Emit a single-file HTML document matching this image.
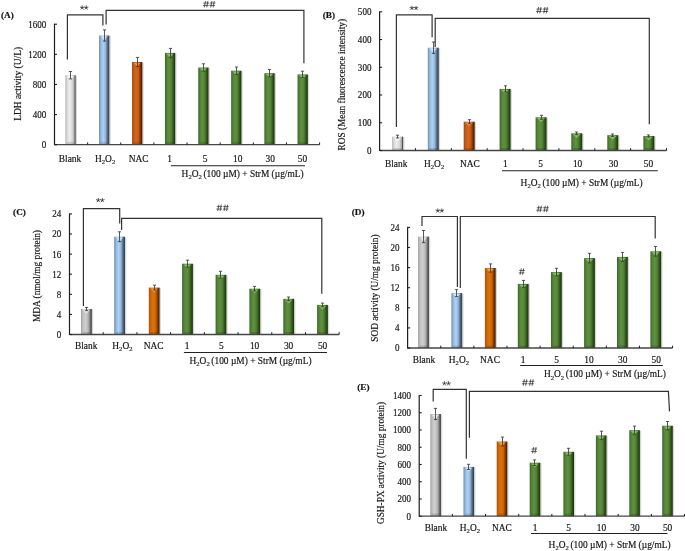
<!DOCTYPE html>
<html><head><meta charset="utf-8"><title>Figure</title>
<style>html,body{margin:0;padding:0;background:#fff;overflow:hidden;}svg{display:block;will-change:transform;}text{stroke:#222;stroke-width:0.18px;}</style></head>
<body><svg width="685" height="551" viewBox="0 0 685 551">
<defs><linearGradient id="g_grayL" x1="0" x2="1" y1="0" y2="0"><stop offset="0%" stop-color="#b2b2b2"/><stop offset="15%" stop-color="#d6d6d6"/><stop offset="40%" stop-color="#ececec"/><stop offset="68%" stop-color="#d8d8d8"/><stop offset="86%" stop-color="#a8a8a8"/><stop offset="93%" stop-color="#5c5c5c"/><stop offset="100%" stop-color="#3a3a3a"/></linearGradient><linearGradient id="g_grayD" x1="0" x2="1" y1="0" y2="0"><stop offset="0%" stop-color="#9c9c9c"/><stop offset="15%" stop-color="#bdbdbd"/><stop offset="40%" stop-color="#d0d0d0"/><stop offset="66%" stop-color="#b8b8b8"/><stop offset="84%" stop-color="#7c7c7c"/><stop offset="92%" stop-color="#4a4a4a"/><stop offset="100%" stop-color="#383838"/></linearGradient><linearGradient id="g_blue" x1="0" x2="1" y1="0" y2="0"><stop offset="0%" stop-color="#6d8cac"/><stop offset="18%" stop-color="#93b8df"/><stop offset="40%" stop-color="#aed2f6"/><stop offset="63%" stop-color="#94b6da"/><stop offset="83%" stop-color="#4f6479"/><stop offset="100%" stop-color="#2f3d4c"/></linearGradient><linearGradient id="g_orange" x1="0" x2="1" y1="0" y2="0"><stop offset="0%" stop-color="#9c4810"/><stop offset="18%" stop-color="#c55a15"/><stop offset="40%" stop-color="#d6661c"/><stop offset="63%" stop-color="#c55a14"/><stop offset="83%" stop-color="#7a3208"/><stop offset="100%" stop-color="#3c1604"/></linearGradient><linearGradient id="g_orangeY" x1="0" x2="1" y1="0" y2="0"><stop offset="0%" stop-color="#a55208"/><stop offset="18%" stop-color="#cc6405"/><stop offset="40%" stop-color="#e07306"/><stop offset="63%" stop-color="#cc6605"/><stop offset="83%" stop-color="#7a3a05"/><stop offset="100%" stop-color="#3e1a02"/></linearGradient><linearGradient id="g_green" x1="0" x2="1" y1="0" y2="0"><stop offset="0%" stop-color="#3b6626"/><stop offset="18%" stop-color="#528337"/><stop offset="40%" stop-color="#5f9140"/><stop offset="63%" stop-color="#537f35"/><stop offset="83%" stop-color="#2f5418"/><stop offset="100%" stop-color="#183009"/></linearGradient></defs>
<rect width="685" height="551" fill="#fff"/>
<rect x="75.65" y="75.7" width="1.3" height="69" fill="#000" opacity="0.16"/>
<rect x="65.35" y="75.2" width="10.3" height="69.5" fill="url(#g_grayL)"/>
<path d="M66.65 76 L74.05 76 L70.5 79.8 Z" fill="#ffffff" opacity="0.72"/>
<path d="M65.35 144.7 L75.65 144.7 L73.45 142.1 L67.55 142.1 Z" fill="#000" opacity="0.13"/>
<path d="M70.5 71.5 V78.9 M68.9 71.5 H72.1 M68.9 78.9 H72.1" stroke="#3a3a3a" stroke-width="0.85" fill="none"/>
<rect x="109.35" y="36" width="1.3" height="108.7" fill="#000" opacity="0.16"/>
<rect x="99.05" y="35.5" width="10.3" height="109.2" fill="url(#g_blue)"/>
<path d="M100.35 36.3 L107.75 36.3 L104.2 40.1 Z" fill="#dcefff" opacity="0.72"/>
<path d="M99.05 144.7 L109.35 144.7 L107.15 142.1 L101.25 142.1 Z" fill="#000" opacity="0.13"/>
<path d="M104.5 29.9 V41.1 M102.9 29.9 H106.1 M102.9 41.1 H106.1" stroke="#3a3a3a" stroke-width="0.85" fill="none"/>
<rect x="142.35" y="62.5" width="1.3" height="82.2" fill="#000" opacity="0.16"/>
<rect x="132.05" y="62" width="10.3" height="82.7" fill="url(#g_orange)"/>
<path d="M133.35 62.8 L140.75 62.8 L137.2 66.6 Z" fill="#f6a657" opacity="0.72"/>
<path d="M132.05 144.7 L142.35 144.7 L140.15 142.1 L134.25 142.1 Z" fill="#000" opacity="0.13"/>
<path d="M137.5 57.4 V66.6 M135.9 57.4 H139.1 M135.9 66.6 H139.1" stroke="#3a3a3a" stroke-width="0.85" fill="none"/>
<rect x="175.25" y="53.4" width="1.3" height="91.3" fill="#000" opacity="0.16"/>
<rect x="164.95" y="52.9" width="10.3" height="91.8" fill="url(#g_green)"/>
<path d="M166.25 53.7 L173.65 53.7 L170.1 57.5 Z" fill="#93d46f" opacity="0.72"/>
<path d="M164.95 144.7 L175.25 144.7 L173.05 142.1 L167.15 142.1 Z" fill="#000" opacity="0.13"/>
<path d="M170.5 48.4 V57.4 M168.9 48.4 H172.1 M168.9 57.4 H172.1" stroke="#3a3a3a" stroke-width="0.85" fill="none"/>
<rect x="208.55" y="68" width="1.3" height="76.7" fill="#000" opacity="0.16"/>
<rect x="198.25" y="67.5" width="10.3" height="77.2" fill="url(#g_green)"/>
<path d="M199.55 68.3 L206.95 68.3 L203.4 72.1 Z" fill="#93d46f" opacity="0.72"/>
<path d="M198.25 144.7 L208.55 144.7 L206.35 142.1 L200.45 142.1 Z" fill="#000" opacity="0.13"/>
<path d="M203.5 63.8 V71.2 M201.9 63.8 H205.1 M201.9 71.2 H205.1" stroke="#3a3a3a" stroke-width="0.85" fill="none"/>
<rect x="241.45" y="71.2" width="1.3" height="73.5" fill="#000" opacity="0.16"/>
<rect x="231.15" y="70.7" width="10.3" height="74" fill="url(#g_green)"/>
<path d="M232.45 71.5 L239.85 71.5 L236.3 75.3 Z" fill="#93d46f" opacity="0.72"/>
<path d="M231.15 144.7 L241.45 144.7 L239.25 142.1 L233.35 142.1 Z" fill="#000" opacity="0.13"/>
<path d="M236.5 67 V74.4 M234.9 67 H238.1 M234.9 74.4 H238.1" stroke="#3a3a3a" stroke-width="0.85" fill="none"/>
<rect x="274.65" y="73.7" width="1.3" height="71" fill="#000" opacity="0.16"/>
<rect x="264.35" y="73.2" width="10.3" height="71.5" fill="url(#g_green)"/>
<path d="M265.65 74 L273.05 74 L269.5 77.8 Z" fill="#93d46f" opacity="0.72"/>
<path d="M264.35 144.7 L274.65 144.7 L272.45 142.1 L266.55 142.1 Z" fill="#000" opacity="0.13"/>
<path d="M269.5 69.5 V76.9 M267.9 69.5 H271.1 M267.9 76.9 H271.1" stroke="#3a3a3a" stroke-width="0.85" fill="none"/>
<rect x="307.85" y="74.9" width="1.3" height="69.8" fill="#000" opacity="0.16"/>
<rect x="297.55" y="74.4" width="10.3" height="70.3" fill="url(#g_green)"/>
<path d="M298.85 75.2 L306.25 75.2 L302.7 79 Z" fill="#93d46f" opacity="0.72"/>
<path d="M297.55 144.7 L307.85 144.7 L305.65 142.1 L299.75 142.1 Z" fill="#000" opacity="0.13"/>
<path d="M302.5 71.2 V77.6 M300.9 71.2 H304.1 M300.9 77.6 H304.1" stroke="#3a3a3a" stroke-width="0.85" fill="none"/>
<path d="M54.5 144.7 H319.6" stroke="#464646" stroke-width="1.3" fill="none"/>
<path d="M54.5 24.2 V144.7" stroke="#1e1e1e" stroke-width="1.2" fill="none" stroke-linecap="round"/>
<path d="M54.5 144.7 H57" stroke="#1e1e1e" stroke-width="1.1"/>
<text transform="translate(46.3,148.1) scale(0.93,1)" font-size="9.7" font-family='"Liberation Serif", serif' text-anchor="end" fill="#111">0</text>
<path d="M54.5 114.57 H57" stroke="#1e1e1e" stroke-width="1.1"/>
<text transform="translate(46.3,117.97) scale(0.93,1)" font-size="9.7" font-family='"Liberation Serif", serif' text-anchor="end" fill="#111">400</text>
<path d="M54.5 84.45 H57" stroke="#1e1e1e" stroke-width="1.1"/>
<text transform="translate(46.3,87.85) scale(0.93,1)" font-size="9.7" font-family='"Liberation Serif", serif' text-anchor="end" fill="#111">800</text>
<path d="M54.5 54.33 H57" stroke="#1e1e1e" stroke-width="1.1"/>
<text transform="translate(46.3,57.73) scale(0.93,1)" font-size="9.7" font-family='"Liberation Serif", serif' text-anchor="end" fill="#111">1200</text>
<path d="M54.5 24.2 H57" stroke="#1e1e1e" stroke-width="1.1"/>
<text transform="translate(46.3,27.6) scale(0.93,1)" font-size="9.7" font-family='"Liberation Serif", serif' text-anchor="end" fill="#111">1600</text>
<path d="M87.64 144.7 V142.4" stroke="#1e1e1e" stroke-width="1"/>
<path d="M120.78 144.7 V142.4" stroke="#1e1e1e" stroke-width="1"/>
<path d="M153.91 144.7 V142.4" stroke="#1e1e1e" stroke-width="1"/>
<path d="M187.05 144.7 V142.4" stroke="#1e1e1e" stroke-width="1"/>
<path d="M220.19 144.7 V142.4" stroke="#1e1e1e" stroke-width="1"/>
<path d="M253.33 144.7 V142.4" stroke="#1e1e1e" stroke-width="1"/>
<path d="M286.46 144.7 V142.4" stroke="#1e1e1e" stroke-width="1"/>
<path d="M319.6 144.7 V142.4" stroke="#1e1e1e" stroke-width="1"/>
<text transform="translate(70,161.8) scale(0.97,1)" font-size="9.7" font-family='"Liberation Serif", serif' text-anchor="middle" font-weight="normal" fill="#111" >Blank</text>
<text transform="translate(105.1,161.8) scale(0.97,1)" font-size="9.7" font-family='"Liberation Serif", serif' text-anchor="middle" font-weight="normal" fill="#111" >H<tspan font-size="6.79" dy="2.2">2</tspan><tspan dy="-2.2">O</tspan><tspan font-size="6.79" dy="2.2">2</tspan><tspan dy="-2.2"></tspan></text>
<text transform="translate(138.7,161.8) scale(0.97,1)" font-size="9.7" font-family='"Liberation Serif", serif' text-anchor="middle" font-weight="normal" fill="#111" >NAC</text>
<text transform="translate(169.7,161.8) scale(0.97,1)" font-size="9.7" font-family='"Liberation Serif", serif' text-anchor="middle" font-weight="normal" fill="#111" >1</text>
<text transform="translate(205.1,161.8) scale(0.97,1)" font-size="9.7" font-family='"Liberation Serif", serif' text-anchor="middle" font-weight="normal" fill="#111" >5</text>
<text transform="translate(237.8,161.8) scale(0.97,1)" font-size="9.7" font-family='"Liberation Serif", serif' text-anchor="middle" font-weight="normal" fill="#111" >10</text>
<text transform="translate(270.2,161.8) scale(0.97,1)" font-size="9.7" font-family='"Liberation Serif", serif' text-anchor="middle" font-weight="normal" fill="#111" >30</text>
<text transform="translate(302.4,161.8) scale(0.97,1)" font-size="9.7" font-family='"Liberation Serif", serif' text-anchor="middle" font-weight="normal" fill="#111" >50</text>
<path d="M170.9 165.7 H305" stroke="#222" stroke-width="1.15"/>
<text transform="translate(181.6,177.2) scale(0.97,1)" font-size="9.7" font-family='"Liberation Serif", serif' text-anchor="start" font-weight="normal" fill="#111" >H<tspan font-size="6.8" dy="2.2">2</tspan><tspan dy="-2.2">O</tspan><tspan font-size="6.8" dy="2.2">2 </tspan><tspan dy="-2.2">(100 µM) + StrM (µg/mL)</tspan></text>
<text transform="translate(1,17.9) scale(1.07,1)" font-size="8.6" font-family='"Liberation Serif", serif' text-anchor="start" font-weight="bold" fill="#111" >(A)</text>
<text transform="translate(21,83.9) rotate(-90)" font-size="9.45" font-family='"Liberation Serif", serif' text-anchor="middle" fill="#111">LDH activity (U/L)</text>
<path d="M67.4 59.6 V14.85 H102.9 L102.9 25.5" stroke="#333" stroke-width="1.2" fill="none"/>
<path d="M106.1 24.5 V10.4 H303.9 L303.9 63.3" stroke="#333" stroke-width="1.2" fill="none"/>
<path d="M82.15 7.7 L82.15 5.8 M82.15 7.7 L83.96 7.11 M82.15 7.7 L83.27 9.24 M82.15 7.7 L81.03 9.24 M82.15 7.7 L80.34 7.11" stroke="#3a3a3a" stroke-width="0.85" stroke-linecap="round" fill="none"/>
<path d="M86.25 7.7 L86.25 5.8 M86.25 7.7 L88.06 7.11 M86.25 7.7 L87.37 9.24 M86.25 7.7 L85.13 9.24 M86.25 7.7 L84.44 7.11" stroke="#3a3a3a" stroke-width="0.85" stroke-linecap="round" fill="none"/>
<path d="M203.4 3.05 H209 M203 5.45 H208.6 M205.5 1 L204.3 7.4 M207.9 1 L206.7 7.4" stroke="#383838" stroke-width="0.8" fill="none"/>
<path d="M209.8 3.05 H215.4 M209.4 5.45 H215 M211.9 1 L210.7 7.4 M214.3 1 L213.1 7.4" stroke="#383838" stroke-width="0.8" fill="none"/>
<rect x="403.1" y="137.1" width="1.3" height="13.4" fill="#000" opacity="0.16"/>
<rect x="392.1" y="136.6" width="11" height="13.9" fill="url(#g_grayL)"/>
<path d="M393.4 137.4 L401.5 137.4 L397.6 141.2 Z" fill="#ffffff" opacity="0.72"/>
<path d="M392.1 150.5 L403.1 150.5 L400.9 147.9 L394.3 147.9 Z" fill="#000" opacity="0.13"/>
<path d="M397.5 135.2 V138 M395.9 135.2 H399.1 M395.9 138 H399.1" stroke="#3a3a3a" stroke-width="0.85" fill="none"/>
<rect x="438.8" y="48.2" width="1.3" height="102.3" fill="#000" opacity="0.16"/>
<rect x="427.8" y="47.7" width="11" height="102.8" fill="url(#g_blue)"/>
<path d="M429.1 48.5 L437.2 48.5 L433.3 52.3 Z" fill="#dcefff" opacity="0.72"/>
<path d="M427.8 150.5 L438.8 150.5 L436.6 147.9 L430 147.9 Z" fill="#000" opacity="0.13"/>
<path d="M433.5 42 V53.4 M431.9 42 H435.1 M431.9 53.4 H435.1" stroke="#3a3a3a" stroke-width="0.85" fill="none"/>
<rect x="474.7" y="122.2" width="1.3" height="28.3" fill="#000" opacity="0.16"/>
<rect x="463.7" y="121.7" width="11" height="28.8" fill="url(#g_orange)"/>
<path d="M465 122.5 L473.1 122.5 L469.2 126.3 Z" fill="#f6a657" opacity="0.72"/>
<path d="M463.7 150.5 L474.7 150.5 L472.5 147.9 L465.9 147.9 Z" fill="#000" opacity="0.13"/>
<path d="M469.5 119.7 V123.7 M467.9 119.7 H471.1 M467.9 123.7 H471.1" stroke="#3a3a3a" stroke-width="0.85" fill="none"/>
<rect x="510.6" y="89.4" width="1.3" height="61.1" fill="#000" opacity="0.16"/>
<rect x="499.6" y="88.9" width="11" height="61.6" fill="url(#g_green)"/>
<path d="M500.9 89.7 L509 89.7 L505.1 93.5 Z" fill="#93d46f" opacity="0.72"/>
<path d="M499.6 150.5 L510.6 150.5 L508.4 147.9 L501.8 147.9 Z" fill="#000" opacity="0.13"/>
<path d="M505.5 85.8 V92 M503.9 85.8 H507.1 M503.9 92 H507.1" stroke="#3a3a3a" stroke-width="0.85" fill="none"/>
<rect x="546.6" y="117.8" width="1.3" height="32.7" fill="#000" opacity="0.16"/>
<rect x="535.6" y="117.3" width="11" height="33.2" fill="url(#g_green)"/>
<path d="M536.9 118.1 L545 118.1 L541.1 121.9 Z" fill="#93d46f" opacity="0.72"/>
<path d="M535.6 150.5 L546.6 150.5 L544.4 147.9 L537.8 147.9 Z" fill="#000" opacity="0.13"/>
<path d="M541.5 115.3 V119.3 M539.9 115.3 H543.1 M539.9 119.3 H543.1" stroke="#3a3a3a" stroke-width="0.85" fill="none"/>
<rect x="582.3" y="133.8" width="1.3" height="16.7" fill="#000" opacity="0.16"/>
<rect x="571.3" y="133.3" width="11" height="17.2" fill="url(#g_green)"/>
<path d="M572.6 134.1 L580.7 134.1 L576.8 137.9 Z" fill="#93d46f" opacity="0.72"/>
<path d="M571.3 150.5 L582.3 150.5 L580.1 147.9 L573.5 147.9 Z" fill="#000" opacity="0.13"/>
<path d="M576.5 132 V134.6 M574.9 132 H578.1 M574.9 134.6 H578.1" stroke="#3a3a3a" stroke-width="0.85" fill="none"/>
<rect x="618.3" y="135.7" width="1.3" height="14.8" fill="#000" opacity="0.16"/>
<rect x="607.3" y="135.2" width="11" height="15.3" fill="url(#g_green)"/>
<path d="M608.6 136 L616.7 136 L612.8 139.8 Z" fill="#93d46f" opacity="0.72"/>
<path d="M607.3 150.5 L618.3 150.5 L616.1 147.9 L609.5 147.9 Z" fill="#000" opacity="0.13"/>
<path d="M612.5 134 V136.4 M610.9 134 H614.1 M610.9 136.4 H614.1" stroke="#3a3a3a" stroke-width="0.85" fill="none"/>
<rect x="654.4" y="136.5" width="1.3" height="14" fill="#000" opacity="0.16"/>
<rect x="643.4" y="136" width="11" height="14.5" fill="url(#g_green)"/>
<path d="M644.7 136.8 L652.8 136.8 L648.9 140.6 Z" fill="#93d46f" opacity="0.72"/>
<path d="M643.4 150.5 L654.4 150.5 L652.2 147.9 L645.6 147.9 Z" fill="#000" opacity="0.13"/>
<path d="M648.5 134.9 V137.1 M646.9 134.9 H650.1 M646.9 137.1 H650.1" stroke="#3a3a3a" stroke-width="0.85" fill="none"/>
<path d="M379.6 150.5 H666.5" stroke="#464646" stroke-width="1.3" fill="none"/>
<path d="M379.6 11.8 V150.5" stroke="#1e1e1e" stroke-width="1.2" fill="none" stroke-linecap="round"/>
<path d="M379.6 150.5 H382.1" stroke="#1e1e1e" stroke-width="1.1"/>
<text transform="translate(371.4,153.9) scale(0.93,1)" font-size="9.7" font-family='"Liberation Serif", serif' text-anchor="end" fill="#111">0</text>
<path d="M379.6 122.76 H382.1" stroke="#1e1e1e" stroke-width="1.1"/>
<text transform="translate(371.4,126.16) scale(0.93,1)" font-size="9.7" font-family='"Liberation Serif", serif' text-anchor="end" fill="#111">100</text>
<path d="M379.6 95.02 H382.1" stroke="#1e1e1e" stroke-width="1.1"/>
<text transform="translate(371.4,98.42) scale(0.93,1)" font-size="9.7" font-family='"Liberation Serif", serif' text-anchor="end" fill="#111">200</text>
<path d="M379.6 67.28 H382.1" stroke="#1e1e1e" stroke-width="1.1"/>
<text transform="translate(371.4,70.68) scale(0.93,1)" font-size="9.7" font-family='"Liberation Serif", serif' text-anchor="end" fill="#111">300</text>
<path d="M379.6 39.54 H382.1" stroke="#1e1e1e" stroke-width="1.1"/>
<text transform="translate(371.4,42.94) scale(0.93,1)" font-size="9.7" font-family='"Liberation Serif", serif' text-anchor="end" fill="#111">400</text>
<path d="M379.6 11.8 H382.1" stroke="#1e1e1e" stroke-width="1.1"/>
<text transform="translate(371.4,15.2) scale(0.93,1)" font-size="9.7" font-family='"Liberation Serif", serif' text-anchor="end" fill="#111">500</text>
<path d="M415.46 150.5 V148.2" stroke="#1e1e1e" stroke-width="1"/>
<path d="M451.33 150.5 V148.2" stroke="#1e1e1e" stroke-width="1"/>
<path d="M487.19 150.5 V148.2" stroke="#1e1e1e" stroke-width="1"/>
<path d="M523.05 150.5 V148.2" stroke="#1e1e1e" stroke-width="1"/>
<path d="M558.91 150.5 V148.2" stroke="#1e1e1e" stroke-width="1"/>
<path d="M594.77 150.5 V148.2" stroke="#1e1e1e" stroke-width="1"/>
<path d="M630.64 150.5 V148.2" stroke="#1e1e1e" stroke-width="1"/>
<path d="M666.5 150.5 V148.2" stroke="#1e1e1e" stroke-width="1"/>
<text transform="translate(396.2,166.6) scale(0.97,1)" font-size="9.7" font-family='"Liberation Serif", serif' text-anchor="middle" font-weight="normal" fill="#111" >Blank</text>
<text transform="translate(434.1,166.6) scale(0.97,1)" font-size="9.7" font-family='"Liberation Serif", serif' text-anchor="middle" font-weight="normal" fill="#111" >H<tspan font-size="6.79" dy="2.2">2</tspan><tspan dy="-2.2">O</tspan><tspan font-size="6.79" dy="2.2">2</tspan><tspan dy="-2.2"></tspan></text>
<text transform="translate(469.9,166.6) scale(0.97,1)" font-size="9.7" font-family='"Liberation Serif", serif' text-anchor="middle" font-weight="normal" fill="#111" >NAC</text>
<text transform="translate(505.3,166.6) scale(0.97,1)" font-size="9.7" font-family='"Liberation Serif", serif' text-anchor="middle" font-weight="normal" fill="#111" >1</text>
<text transform="translate(540.7,166.6) scale(0.97,1)" font-size="9.7" font-family='"Liberation Serif", serif' text-anchor="middle" font-weight="normal" fill="#111" >5</text>
<text transform="translate(577.6,166.6) scale(0.97,1)" font-size="9.7" font-family='"Liberation Serif", serif' text-anchor="middle" font-weight="normal" fill="#111" >10</text>
<text transform="translate(613.5,166.6) scale(0.97,1)" font-size="9.7" font-family='"Liberation Serif", serif' text-anchor="middle" font-weight="normal" fill="#111" >30</text>
<text transform="translate(648.5,166.6) scale(0.97,1)" font-size="9.7" font-family='"Liberation Serif", serif' text-anchor="middle" font-weight="normal" fill="#111" >50</text>
<path d="M502 170.7 H657.8" stroke="#222" stroke-width="1.15"/>
<text transform="translate(520.6,185.6) scale(0.97,1)" font-size="9.7" font-family='"Liberation Serif", serif' text-anchor="start" font-weight="normal" fill="#111" >H<tspan font-size="6.8" dy="2.2">2</tspan><tspan dy="-2.2">O</tspan><tspan font-size="6.8" dy="2.2">2 </tspan><tspan dy="-2.2">(100 µM) + StrM (µg/mL)</tspan></text>
<text transform="translate(322.7,17.6) scale(1.07,1)" font-size="8.6" font-family='"Liberation Serif", serif' text-anchor="start" font-weight="bold" fill="#111" >(B)</text>
<text transform="translate(345.3,84.7) rotate(-90)" font-size="9.3" font-family='"Liberation Serif", serif' text-anchor="middle" fill="#111">ROS (Mean fluorescence intensity)</text>
<path d="M396.4 127 V14.9 H432.1 L432.1 37.2" stroke="#333" stroke-width="1.2" fill="none"/>
<path d="M435.2 47 V18.3 H649.3 L649.3 124.3" stroke="#333" stroke-width="1.2" fill="none"/>
<path d="M411.95 8.1 L411.95 6.2 M411.95 8.1 L413.76 7.51 M411.95 8.1 L413.07 9.64 M411.95 8.1 L410.83 9.64 M411.95 8.1 L410.14 7.51" stroke="#3a3a3a" stroke-width="0.85" stroke-linecap="round" fill="none"/>
<path d="M416.05 8.1 L416.05 6.2 M416.05 8.1 L417.86 7.51 M416.05 8.1 L417.17 9.64 M416.05 8.1 L414.93 9.64 M416.05 8.1 L414.24 7.51" stroke="#3a3a3a" stroke-width="0.85" stroke-linecap="round" fill="none"/>
<path d="M536.5 9.05 H542.1 M536.1 11.45 H541.7 M538.6 7 L537.4 13.4 M541 7 L539.8 13.4" stroke="#383838" stroke-width="0.8" fill="none"/>
<path d="M542.9 9.05 H548.5 M542.5 11.45 H548.1 M545 7 L543.8 13.4 M547.4 7 L546.2 13.4" stroke="#383838" stroke-width="0.8" fill="none"/>
<rect x="91.8" y="309.5" width="1.3" height="25" fill="#000" opacity="0.16"/>
<rect x="81" y="309" width="10.8" height="25.5" fill="url(#g_grayD)"/>
<path d="M82.3 309.8 L90.2 309.8 L86.4 313.6 Z" fill="#f4f4f4" opacity="0.72"/>
<path d="M81 334.5 L91.8 334.5 L89.6 331.9 L83.2 331.9 Z" fill="#000" opacity="0.13"/>
<path d="M86.5 307.4 V310.6 M84.9 307.4 H88.1 M84.9 310.6 H88.1" stroke="#3a3a3a" stroke-width="0.85" fill="none"/>
<rect x="125" y="237.2" width="1.3" height="97.3" fill="#000" opacity="0.16"/>
<rect x="114.2" y="236.7" width="10.8" height="97.8" fill="url(#g_blue)"/>
<path d="M115.5 237.5 L123.4 237.5 L119.6 241.3 Z" fill="#dcefff" opacity="0.72"/>
<path d="M114.2 334.5 L125 334.5 L122.8 331.9 L116.4 331.9 Z" fill="#000" opacity="0.13"/>
<path d="M119.5 231.8 V241.6 M117.9 231.8 H121.1 M117.9 241.6 H121.1" stroke="#3a3a3a" stroke-width="0.85" fill="none"/>
<rect x="159.6" y="288.1" width="1.3" height="46.4" fill="#000" opacity="0.16"/>
<rect x="148.8" y="287.6" width="10.8" height="46.9" fill="url(#g_orangeY)"/>
<path d="M150.1 288.4 L158 288.4 L154.2 292.2 Z" fill="#ffb050" opacity="0.72"/>
<path d="M148.8 334.5 L159.6 334.5 L157.4 331.9 L151 331.9 Z" fill="#000" opacity="0.13"/>
<path d="M154.5 285.2 V290 M152.9 285.2 H156.1 M152.9 290 H156.1" stroke="#3a3a3a" stroke-width="0.85" fill="none"/>
<rect x="192.9" y="264.2" width="1.3" height="70.3" fill="#000" opacity="0.16"/>
<rect x="182.1" y="263.7" width="10.8" height="70.8" fill="url(#g_green)"/>
<path d="M183.4 264.5 L191.3 264.5 L187.5 268.3 Z" fill="#93d46f" opacity="0.72"/>
<path d="M182.1 334.5 L192.9 334.5 L190.7 331.9 L184.3 331.9 Z" fill="#000" opacity="0.13"/>
<path d="M187.5 260.2 V267.2 M185.9 260.2 H189.1 M185.9 267.2 H189.1" stroke="#3a3a3a" stroke-width="0.85" fill="none"/>
<rect x="226.4" y="275.3" width="1.3" height="59.2" fill="#000" opacity="0.16"/>
<rect x="215.6" y="274.8" width="10.8" height="59.7" fill="url(#g_green)"/>
<path d="M216.9 275.6 L224.8 275.6 L221 279.4 Z" fill="#93d46f" opacity="0.72"/>
<path d="M215.6 334.5 L226.4 334.5 L224.2 331.9 L217.8 331.9 Z" fill="#000" opacity="0.13"/>
<path d="M220.5 271.3 V278.3 M218.9 271.3 H222.1 M218.9 278.3 H222.1" stroke="#3a3a3a" stroke-width="0.85" fill="none"/>
<rect x="260.2" y="289.2" width="1.3" height="45.3" fill="#000" opacity="0.16"/>
<rect x="249.4" y="288.7" width="10.8" height="45.8" fill="url(#g_green)"/>
<path d="M250.7 289.5 L258.6 289.5 L254.8 293.3 Z" fill="#93d46f" opacity="0.72"/>
<path d="M249.4 334.5 L260.2 334.5 L258 331.9 L251.6 331.9 Z" fill="#000" opacity="0.13"/>
<path d="M254.5 286.4 V291 M252.9 286.4 H256.1 M252.9 291 H256.1" stroke="#3a3a3a" stroke-width="0.85" fill="none"/>
<rect x="294.1" y="299.3" width="1.3" height="35.2" fill="#000" opacity="0.16"/>
<rect x="283.3" y="298.8" width="10.8" height="35.7" fill="url(#g_green)"/>
<path d="M284.6 299.6 L292.5 299.6 L288.7 303.4 Z" fill="#93d46f" opacity="0.72"/>
<path d="M283.3 334.5 L294.1 334.5 L291.9 331.9 L285.5 331.9 Z" fill="#000" opacity="0.13"/>
<path d="M288.5 297 V300.6 M286.9 297 H290.1 M286.9 300.6 H290.1" stroke="#3a3a3a" stroke-width="0.85" fill="none"/>
<rect x="327.9" y="305.4" width="1.3" height="29.1" fill="#000" opacity="0.16"/>
<rect x="317.1" y="304.9" width="10.8" height="29.6" fill="url(#g_green)"/>
<path d="M318.4 305.7 L326.3 305.7 L322.5 309.5 Z" fill="#93d46f" opacity="0.72"/>
<path d="M317.1 334.5 L327.9 334.5 L325.7 331.9 L319.3 331.9 Z" fill="#000" opacity="0.13"/>
<path d="M322.5 303.1 V306.7 M320.9 303.1 H324.1 M320.9 306.7 H324.1" stroke="#3a3a3a" stroke-width="0.85" fill="none"/>
<path d="M69.5 334.5 H339.2" stroke="#464646" stroke-width="1.3" fill="none"/>
<path d="M69.5 213.9 V334.5" stroke="#1e1e1e" stroke-width="1.2" fill="none" stroke-linecap="round"/>
<path d="M69.5 334.5 H72" stroke="#1e1e1e" stroke-width="1.1"/>
<text transform="translate(61.3,337.9) scale(0.93,1)" font-size="9.7" font-family='"Liberation Serif", serif' text-anchor="end" fill="#111">0</text>
<path d="M69.5 314.4 H72" stroke="#1e1e1e" stroke-width="1.1"/>
<text transform="translate(61.3,317.8) scale(0.93,1)" font-size="9.7" font-family='"Liberation Serif", serif' text-anchor="end" fill="#111">4</text>
<path d="M69.5 294.3 H72" stroke="#1e1e1e" stroke-width="1.1"/>
<text transform="translate(61.3,297.7) scale(0.93,1)" font-size="9.7" font-family='"Liberation Serif", serif' text-anchor="end" fill="#111">8</text>
<path d="M69.5 274.2 H72" stroke="#1e1e1e" stroke-width="1.1"/>
<text transform="translate(61.3,277.6) scale(0.93,1)" font-size="9.7" font-family='"Liberation Serif", serif' text-anchor="end" fill="#111">12</text>
<path d="M69.5 254.1 H72" stroke="#1e1e1e" stroke-width="1.1"/>
<text transform="translate(61.3,257.5) scale(0.93,1)" font-size="9.7" font-family='"Liberation Serif", serif' text-anchor="end" fill="#111">16</text>
<path d="M69.5 234 H72" stroke="#1e1e1e" stroke-width="1.1"/>
<text transform="translate(61.3,237.4) scale(0.93,1)" font-size="9.7" font-family='"Liberation Serif", serif' text-anchor="end" fill="#111">20</text>
<path d="M69.5 213.9 H72" stroke="#1e1e1e" stroke-width="1.1"/>
<text transform="translate(61.3,217.3) scale(0.93,1)" font-size="9.7" font-family='"Liberation Serif", serif' text-anchor="end" fill="#111">24</text>
<path d="M103.21 334.5 V332.2" stroke="#1e1e1e" stroke-width="1"/>
<path d="M136.93 334.5 V332.2" stroke="#1e1e1e" stroke-width="1"/>
<path d="M170.64 334.5 V332.2" stroke="#1e1e1e" stroke-width="1"/>
<path d="M204.35 334.5 V332.2" stroke="#1e1e1e" stroke-width="1"/>
<path d="M238.06 334.5 V332.2" stroke="#1e1e1e" stroke-width="1"/>
<path d="M271.77 334.5 V332.2" stroke="#1e1e1e" stroke-width="1"/>
<path d="M305.49 334.5 V332.2" stroke="#1e1e1e" stroke-width="1"/>
<path d="M339.2 334.5 V332.2" stroke="#1e1e1e" stroke-width="1"/>
<text transform="translate(86.2,348.8) scale(0.97,1)" font-size="9.7" font-family='"Liberation Serif", serif' text-anchor="middle" font-weight="normal" fill="#111" >Blank</text>
<text transform="translate(122.4,348.8) scale(0.97,1)" font-size="9.7" font-family='"Liberation Serif", serif' text-anchor="middle" font-weight="normal" fill="#111" >H<tspan font-size="6.79" dy="2.2">2</tspan><tspan dy="-2.2">O</tspan><tspan font-size="6.79" dy="2.2">2</tspan><tspan dy="-2.2"></tspan></text>
<text transform="translate(153.6,348.8) scale(0.97,1)" font-size="9.7" font-family='"Liberation Serif", serif' text-anchor="middle" font-weight="normal" fill="#111" >NAC</text>
<text transform="translate(187.2,348.8) scale(0.97,1)" font-size="9.7" font-family='"Liberation Serif", serif' text-anchor="middle" font-weight="normal" fill="#111" >1</text>
<text transform="translate(221.3,348.8) scale(0.97,1)" font-size="9.7" font-family='"Liberation Serif", serif' text-anchor="middle" font-weight="normal" fill="#111" >5</text>
<text transform="translate(254.6,348.8) scale(0.97,1)" font-size="9.7" font-family='"Liberation Serif", serif' text-anchor="middle" font-weight="normal" fill="#111" >10</text>
<text transform="translate(288.6,348.8) scale(0.97,1)" font-size="9.7" font-family='"Liberation Serif", serif' text-anchor="middle" font-weight="normal" fill="#111" >30</text>
<text transform="translate(322.6,348.8) scale(0.97,1)" font-size="9.7" font-family='"Liberation Serif", serif' text-anchor="middle" font-weight="normal" fill="#111" >50</text>
<path d="M183.9 352.5 H327" stroke="#222" stroke-width="1.15"/>
<text transform="translate(189.5,363.6) scale(0.97,1)" font-size="9.7" font-family='"Liberation Serif", serif' text-anchor="start" font-weight="normal" fill="#111" >H<tspan font-size="6.8" dy="2.2">2</tspan><tspan dy="-2.2">O</tspan><tspan font-size="6.8" dy="2.2">2 </tspan><tspan dy="-2.2">(100 µM) + StrM (µg/mL)</tspan></text>
<text transform="translate(13.1,215) scale(1.07,1)" font-size="8.6" font-family='"Liberation Serif", serif' text-anchor="start" font-weight="bold" fill="#111" >(C)</text>
<text transform="translate(39.6,276) rotate(-90)" font-size="9.3" font-family='"Liberation Serif", serif' text-anchor="middle" fill="#111">MDA (nmol/mg protein)</text>
<path d="M83.4 306.1 V208.6 H119.7 L119.7 223.5" stroke="#333" stroke-width="1.2" fill="none"/>
<path d="M121.6 230.1 V218.3 H321.8 L321.8 293.8" stroke="#333" stroke-width="1.2" fill="none"/>
<path d="M98.25 200.3 L98.25 198.4 M98.25 200.3 L100.06 199.71 M98.25 200.3 L99.37 201.84 M98.25 200.3 L97.13 201.84 M98.25 200.3 L96.44 199.71" stroke="#3a3a3a" stroke-width="0.85" stroke-linecap="round" fill="none"/>
<path d="M102.35 200.3 L102.35 198.4 M102.35 200.3 L104.16 199.71 M102.35 200.3 L103.47 201.84 M102.35 200.3 L101.23 201.84 M102.35 200.3 L100.54 199.71" stroke="#3a3a3a" stroke-width="0.85" stroke-linecap="round" fill="none"/>
<path d="M216.8 206.65 H222.4 M216.4 209.05 H222 M218.9 204.6 L217.7 211 M221.3 204.6 L220.1 211" stroke="#383838" stroke-width="0.8" fill="none"/>
<path d="M223.2 206.65 H228.8 M222.8 209.05 H228.4 M225.3 204.6 L224.1 211 M227.7 204.6 L226.5 211" stroke="#383838" stroke-width="0.8" fill="none"/>
<rect x="428.9" y="237.1" width="1.3" height="110.9" fill="#000" opacity="0.16"/>
<rect x="418.1" y="236.6" width="10.8" height="111.4" fill="url(#g_grayD)"/>
<path d="M419.4 237.4 L427.3 237.4 L423.5 241.2 Z" fill="#f4f4f4" opacity="0.72"/>
<path d="M418.1 348 L428.9 348 L426.7 345.4 L420.3 345.4 Z" fill="#000" opacity="0.13"/>
<path d="M423.5 230.5 V242.7 M421.9 230.5 H425.1 M421.9 242.7 H425.1" stroke="#3a3a3a" stroke-width="0.85" fill="none"/>
<rect x="462.2" y="293.6" width="1.3" height="54.4" fill="#000" opacity="0.16"/>
<rect x="451.4" y="293.1" width="10.8" height="54.9" fill="url(#g_blue)"/>
<path d="M452.7 293.9 L460.6 293.9 L456.8 297.7 Z" fill="#dcefff" opacity="0.72"/>
<path d="M451.4 348 L462.2 348 L460 345.4 L453.6 345.4 Z" fill="#000" opacity="0.13"/>
<path d="M456.5 289.6 V296.6 M454.9 289.6 H458.1 M454.9 296.6 H458.1" stroke="#3a3a3a" stroke-width="0.85" fill="none"/>
<rect x="495.7" y="268.5" width="1.3" height="79.5" fill="#000" opacity="0.16"/>
<rect x="484.9" y="268" width="10.8" height="80" fill="url(#g_orangeY)"/>
<path d="M486.2 268.8 L494.1 268.8 L490.3 272.6 Z" fill="#ffb050" opacity="0.72"/>
<path d="M484.9 348 L495.7 348 L493.5 345.4 L487.1 345.4 Z" fill="#000" opacity="0.13"/>
<path d="M490.5 263.9 V272.1 M488.9 263.9 H492.1 M488.9 272.1 H492.1" stroke="#3a3a3a" stroke-width="0.85" fill="none"/>
<rect x="528.6" y="284.4" width="1.3" height="63.6" fill="#000" opacity="0.16"/>
<rect x="517.8" y="283.9" width="10.8" height="64.1" fill="url(#g_green)"/>
<path d="M519.1 284.7 L527 284.7 L523.2 288.5 Z" fill="#93d46f" opacity="0.72"/>
<path d="M517.8 348 L528.6 348 L526.4 345.4 L520 345.4 Z" fill="#000" opacity="0.13"/>
<path d="M523.5 280.4 V287.4 M521.9 280.4 H525.1 M521.9 287.4 H525.1" stroke="#3a3a3a" stroke-width="0.85" fill="none"/>
<rect x="561.8" y="272.6" width="1.3" height="75.4" fill="#000" opacity="0.16"/>
<rect x="551" y="272.1" width="10.8" height="75.9" fill="url(#g_green)"/>
<path d="M552.3 272.9 L560.2 272.9 L556.4 276.7 Z" fill="#93d46f" opacity="0.72"/>
<path d="M551 348 L561.8 348 L559.6 345.4 L553.2 345.4 Z" fill="#000" opacity="0.13"/>
<path d="M556.5 268.3 V275.9 M554.9 268.3 H558.1 M554.9 275.9 H558.1" stroke="#3a3a3a" stroke-width="0.85" fill="none"/>
<rect x="594.9" y="258.6" width="1.3" height="89.4" fill="#000" opacity="0.16"/>
<rect x="584.1" y="258.1" width="10.8" height="89.9" fill="url(#g_green)"/>
<path d="M585.4 258.9 L593.3 258.9 L589.5 262.7 Z" fill="#93d46f" opacity="0.72"/>
<path d="M584.1 348 L594.9 348 L592.7 345.4 L586.3 345.4 Z" fill="#000" opacity="0.13"/>
<path d="M589.5 253.3 V262.9 M587.9 253.3 H591.1 M587.9 262.9 H591.1" stroke="#3a3a3a" stroke-width="0.85" fill="none"/>
<rect x="627.8" y="257.4" width="1.3" height="90.6" fill="#000" opacity="0.16"/>
<rect x="617" y="256.9" width="10.8" height="91.1" fill="url(#g_green)"/>
<path d="M618.3 257.7 L626.2 257.7 L622.4 261.5 Z" fill="#93d46f" opacity="0.72"/>
<path d="M617 348 L627.8 348 L625.6 345.4 L619.2 345.4 Z" fill="#000" opacity="0.13"/>
<path d="M622.5 252.4 V261.4 M620.9 252.4 H624.1 M620.9 261.4 H624.1" stroke="#3a3a3a" stroke-width="0.85" fill="none"/>
<rect x="661.2" y="251.8" width="1.3" height="96.2" fill="#000" opacity="0.16"/>
<rect x="650.4" y="251.3" width="10.8" height="96.7" fill="url(#g_green)"/>
<path d="M651.7 252.1 L659.6 252.1 L655.8 255.9 Z" fill="#93d46f" opacity="0.72"/>
<path d="M650.4 348 L661.2 348 L659 345.4 L652.6 345.4 Z" fill="#000" opacity="0.13"/>
<path d="M655.5 246.5 V256.1 M653.9 246.5 H657.1 M653.9 256.1 H657.1" stroke="#3a3a3a" stroke-width="0.85" fill="none"/>
<path d="M407.6 348 H672.6" stroke="#464646" stroke-width="1.3" fill="none"/>
<path d="M407.6 227.4 V348" stroke="#1e1e1e" stroke-width="1.2" fill="none" stroke-linecap="round"/>
<path d="M407.6 348 H410.1" stroke="#1e1e1e" stroke-width="1.1"/>
<text transform="translate(399.4,351.4) scale(0.93,1)" font-size="9.7" font-family='"Liberation Serif", serif' text-anchor="end" fill="#111">0</text>
<path d="M407.6 327.9 H410.1" stroke="#1e1e1e" stroke-width="1.1"/>
<text transform="translate(399.4,331.3) scale(0.93,1)" font-size="9.7" font-family='"Liberation Serif", serif' text-anchor="end" fill="#111">4</text>
<path d="M407.6 307.8 H410.1" stroke="#1e1e1e" stroke-width="1.1"/>
<text transform="translate(399.4,311.2) scale(0.93,1)" font-size="9.7" font-family='"Liberation Serif", serif' text-anchor="end" fill="#111">8</text>
<path d="M407.6 287.7 H410.1" stroke="#1e1e1e" stroke-width="1.1"/>
<text transform="translate(399.4,291.1) scale(0.93,1)" font-size="9.7" font-family='"Liberation Serif", serif' text-anchor="end" fill="#111">12</text>
<path d="M407.6 267.6 H410.1" stroke="#1e1e1e" stroke-width="1.1"/>
<text transform="translate(399.4,271) scale(0.93,1)" font-size="9.7" font-family='"Liberation Serif", serif' text-anchor="end" fill="#111">16</text>
<path d="M407.6 247.5 H410.1" stroke="#1e1e1e" stroke-width="1.1"/>
<text transform="translate(399.4,250.9) scale(0.93,1)" font-size="9.7" font-family='"Liberation Serif", serif' text-anchor="end" fill="#111">20</text>
<path d="M407.6 227.4 H410.1" stroke="#1e1e1e" stroke-width="1.1"/>
<text transform="translate(399.4,230.8) scale(0.93,1)" font-size="9.7" font-family='"Liberation Serif", serif' text-anchor="end" fill="#111">24</text>
<path d="M440.73 348 V345.7" stroke="#1e1e1e" stroke-width="1"/>
<path d="M473.85 348 V345.7" stroke="#1e1e1e" stroke-width="1"/>
<path d="M506.98 348 V345.7" stroke="#1e1e1e" stroke-width="1"/>
<path d="M540.1 348 V345.7" stroke="#1e1e1e" stroke-width="1"/>
<path d="M573.23 348 V345.7" stroke="#1e1e1e" stroke-width="1"/>
<path d="M606.35 348 V345.7" stroke="#1e1e1e" stroke-width="1"/>
<path d="M639.48 348 V345.7" stroke="#1e1e1e" stroke-width="1"/>
<path d="M672.6 348 V345.7" stroke="#1e1e1e" stroke-width="1"/>
<text transform="translate(423.9,362.7) scale(0.97,1)" font-size="9.7" font-family='"Liberation Serif", serif' text-anchor="middle" font-weight="normal" fill="#111" >Blank</text>
<text transform="translate(458.9,362.7) scale(0.97,1)" font-size="9.7" font-family='"Liberation Serif", serif' text-anchor="middle" font-weight="normal" fill="#111" >H<tspan font-size="6.79" dy="2.2">2</tspan><tspan dy="-2.2">O</tspan><tspan font-size="6.79" dy="2.2">2</tspan><tspan dy="-2.2"></tspan></text>
<text transform="translate(490,362.7) scale(0.97,1)" font-size="9.7" font-family='"Liberation Serif", serif' text-anchor="middle" font-weight="normal" fill="#111" >NAC</text>
<text transform="translate(523.2,362.7) scale(0.97,1)" font-size="9.7" font-family='"Liberation Serif", serif' text-anchor="middle" font-weight="normal" fill="#111" >1</text>
<text transform="translate(556.6,362.7) scale(0.97,1)" font-size="9.7" font-family='"Liberation Serif", serif' text-anchor="middle" font-weight="normal" fill="#111" >5</text>
<text transform="translate(589,362.7) scale(0.97,1)" font-size="9.7" font-family='"Liberation Serif", serif' text-anchor="middle" font-weight="normal" fill="#111" >10</text>
<text transform="translate(622.8,362.7) scale(0.97,1)" font-size="9.7" font-family='"Liberation Serif", serif' text-anchor="middle" font-weight="normal" fill="#111" >30</text>
<text transform="translate(656.2,362.7) scale(0.97,1)" font-size="9.7" font-family='"Liberation Serif", serif' text-anchor="middle" font-weight="normal" fill="#111" >50</text>
<path d="M520.1 365.5 H662.8" stroke="#222" stroke-width="1.15"/>
<text transform="translate(543.9,377.4) scale(0.97,1)" font-size="9.7" font-family='"Liberation Serif", serif' text-anchor="start" font-weight="normal" fill="#111" >H<tspan font-size="6.8" dy="2.2">2</tspan><tspan dy="-2.2">O</tspan><tspan font-size="6.8" dy="2.2">2 </tspan><tspan dy="-2.2">(100 µM) + StrM (µg/mL)</tspan></text>
<text transform="translate(351.7,214.8) scale(1.07,1)" font-size="8.6" font-family='"Liberation Serif", serif' text-anchor="start" font-weight="bold" fill="#111" >(D)</text>
<text transform="translate(377.8,288.1) rotate(-90)" font-size="9.3" font-family='"Liberation Serif", serif' text-anchor="middle" fill="#111">SOD activity (U/mg protein)</text>
<path d="M422 226 V216.5 H457.4 L457.4 287" stroke="#333" stroke-width="1.2" fill="none"/>
<path d="M460.3 288 V216.5 H655.2 L655.2 238.5" stroke="#333" stroke-width="1.2" fill="none"/>
<path d="M437.75 210.7 L437.75 208.8 M437.75 210.7 L439.56 210.11 M437.75 210.7 L438.87 212.24 M437.75 210.7 L436.63 212.24 M437.75 210.7 L435.94 210.11" stroke="#3a3a3a" stroke-width="0.85" stroke-linecap="round" fill="none"/>
<path d="M441.85 210.7 L441.85 208.8 M441.85 210.7 L443.66 210.11 M441.85 210.7 L442.97 212.24 M441.85 210.7 L440.73 212.24 M441.85 210.7 L440.04 210.11" stroke="#3a3a3a" stroke-width="0.85" stroke-linecap="round" fill="none"/>
<path d="M536.8 207.75 H542.4 M536.4 210.15 H542 M538.9 205.7 L537.7 212.1 M541.3 205.7 L540.1 212.1" stroke="#383838" stroke-width="0.8" fill="none"/>
<path d="M543.2 207.75 H548.8 M542.8 210.15 H548.4 M545.3 205.7 L544.1 212.1 M547.7 205.7 L546.5 212.1" stroke="#383838" stroke-width="0.8" fill="none"/>
<path d="M519.2 270.45 H524.8 M518.8 272.85 H524.4 M521.3 268.4 L520.1 274.8 M523.7 268.4 L522.5 274.8" stroke="#383838" stroke-width="0.8" fill="none"/>
<rect x="440.9" y="414.5" width="1.3" height="101.7" fill="#000" opacity="0.16"/>
<rect x="430.3" y="414" width="10.6" height="102.2" fill="url(#g_grayD)"/>
<path d="M431.6 414.8 L439.3 414.8 L435.6 418.6 Z" fill="#f4f4f4" opacity="0.72"/>
<path d="M430.3 516.2 L440.9 516.2 L438.7 513.6 L432.5 513.6 Z" fill="#000" opacity="0.13"/>
<path d="M435.5 408.4 V419.6 M433.9 408.4 H437.1 M433.9 419.6 H437.1" stroke="#3a3a3a" stroke-width="0.85" fill="none"/>
<rect x="474.1" y="467.4" width="1.3" height="48.8" fill="#000" opacity="0.16"/>
<rect x="463.5" y="466.9" width="10.6" height="49.3" fill="url(#g_blue)"/>
<path d="M464.8 467.7 L472.5 467.7 L468.8 471.5 Z" fill="#dcefff" opacity="0.72"/>
<path d="M463.5 516.2 L474.1 516.2 L471.9 513.6 L465.7 513.6 Z" fill="#000" opacity="0.13"/>
<path d="M468.5 464.3 V469.5 M466.9 464.3 H470.1 M466.9 469.5 H470.1" stroke="#3a3a3a" stroke-width="0.85" fill="none"/>
<rect x="507.3" y="442" width="1.3" height="74.2" fill="#000" opacity="0.16"/>
<rect x="496.7" y="441.5" width="10.6" height="74.7" fill="url(#g_orangeY)"/>
<path d="M498 442.3 L505.7 442.3 L502 446.1 Z" fill="#ffb050" opacity="0.72"/>
<path d="M496.7 516.2 L507.3 516.2 L505.1 513.6 L498.9 513.6 Z" fill="#000" opacity="0.13"/>
<path d="M502.5 437.1 V445.9 M500.9 437.1 H504.1 M500.9 445.9 H504.1" stroke="#3a3a3a" stroke-width="0.85" fill="none"/>
<rect x="540.3" y="463.2" width="1.3" height="53" fill="#000" opacity="0.16"/>
<rect x="529.7" y="462.7" width="10.6" height="53.5" fill="url(#g_green)"/>
<path d="M531 463.5 L538.7 463.5 L535 467.3 Z" fill="#93d46f" opacity="0.72"/>
<path d="M529.7 516.2 L540.3 516.2 L538.1 513.6 L531.9 513.6 Z" fill="#000" opacity="0.13"/>
<path d="M534.5 459.9 V465.5 M532.9 459.9 H536.1 M532.9 465.5 H536.1" stroke="#3a3a3a" stroke-width="0.85" fill="none"/>
<rect x="574" y="452.3" width="1.3" height="63.9" fill="#000" opacity="0.16"/>
<rect x="563.4" y="451.8" width="10.6" height="64.4" fill="url(#g_green)"/>
<path d="M564.7 452.6 L572.4 452.6 L568.7 456.4 Z" fill="#93d46f" opacity="0.72"/>
<path d="M563.4 516.2 L574 516.2 L571.8 513.6 L565.6 513.6 Z" fill="#000" opacity="0.13"/>
<path d="M568.5 448.3 V455.3 M566.9 448.3 H570.1 M566.9 455.3 H570.1" stroke="#3a3a3a" stroke-width="0.85" fill="none"/>
<rect x="606.5" y="435.9" width="1.3" height="80.3" fill="#000" opacity="0.16"/>
<rect x="595.9" y="435.4" width="10.6" height="80.8" fill="url(#g_green)"/>
<path d="M597.2 436.2 L604.9 436.2 L601.2 440 Z" fill="#93d46f" opacity="0.72"/>
<path d="M595.9 516.2 L606.5 516.2 L604.3 513.6 L598.1 513.6 Z" fill="#000" opacity="0.13"/>
<path d="M601.5 431.2 V439.6 M599.9 431.2 H603.1 M599.9 439.6 H603.1" stroke="#3a3a3a" stroke-width="0.85" fill="none"/>
<rect x="639.9" y="430.7" width="1.3" height="85.5" fill="#000" opacity="0.16"/>
<rect x="629.3" y="430.2" width="10.6" height="86" fill="url(#g_green)"/>
<path d="M630.6 431 L638.3 431 L634.6 434.8 Z" fill="#93d46f" opacity="0.72"/>
<path d="M629.3 516.2 L639.9 516.2 L637.7 513.6 L631.5 513.6 Z" fill="#000" opacity="0.13"/>
<path d="M634.5 426.1 V434.3 M632.9 426.1 H636.1 M632.9 434.3 H636.1" stroke="#3a3a3a" stroke-width="0.85" fill="none"/>
<rect x="672.8" y="426.2" width="1.3" height="90" fill="#000" opacity="0.16"/>
<rect x="662.2" y="425.7" width="10.6" height="90.5" fill="url(#g_green)"/>
<path d="M663.5 426.5 L671.2 426.5 L667.5 430.3 Z" fill="#93d46f" opacity="0.72"/>
<path d="M662.2 516.2 L672.8 516.2 L670.6 513.6 L664.4 513.6 Z" fill="#000" opacity="0.13"/>
<path d="M667.5 421.5 V429.9 M665.9 421.5 H669.1 M665.9 429.9 H669.1" stroke="#3a3a3a" stroke-width="0.85" fill="none"/>
<path d="M419.2 516.2 H684.5" stroke="#464646" stroke-width="1.3" fill="none"/>
<path d="M419.2 395.5 V516.2" stroke="#1e1e1e" stroke-width="1.2" fill="none" stroke-linecap="round"/>
<path d="M419.2 516.2 H421.7" stroke="#1e1e1e" stroke-width="1.1"/>
<text transform="translate(411,519.6) scale(0.93,1)" font-size="9.7" font-family='"Liberation Serif", serif' text-anchor="end" fill="#111">0</text>
<path d="M419.2 498.96 H421.7" stroke="#1e1e1e" stroke-width="1.1"/>
<text transform="translate(411,502.36) scale(0.93,1)" font-size="9.7" font-family='"Liberation Serif", serif' text-anchor="end" fill="#111">200</text>
<path d="M419.2 481.71 H421.7" stroke="#1e1e1e" stroke-width="1.1"/>
<text transform="translate(411,485.11) scale(0.93,1)" font-size="9.7" font-family='"Liberation Serif", serif' text-anchor="end" fill="#111">400</text>
<path d="M419.2 464.47 H421.7" stroke="#1e1e1e" stroke-width="1.1"/>
<text transform="translate(411,467.87) scale(0.93,1)" font-size="9.7" font-family='"Liberation Serif", serif' text-anchor="end" fill="#111">600</text>
<path d="M419.2 447.23 H421.7" stroke="#1e1e1e" stroke-width="1.1"/>
<text transform="translate(411,450.63) scale(0.93,1)" font-size="9.7" font-family='"Liberation Serif", serif' text-anchor="end" fill="#111">800</text>
<path d="M419.2 429.99 H421.7" stroke="#1e1e1e" stroke-width="1.1"/>
<text transform="translate(411,433.39) scale(0.93,1)" font-size="9.7" font-family='"Liberation Serif", serif' text-anchor="end" fill="#111">1000</text>
<path d="M419.2 412.74 H421.7" stroke="#1e1e1e" stroke-width="1.1"/>
<text transform="translate(411,416.14) scale(0.93,1)" font-size="9.7" font-family='"Liberation Serif", serif' text-anchor="end" fill="#111">1200</text>
<path d="M419.2 395.5 H421.7" stroke="#1e1e1e" stroke-width="1.1"/>
<text transform="translate(411,398.9) scale(0.93,1)" font-size="9.7" font-family='"Liberation Serif", serif' text-anchor="end" fill="#111">1400</text>
<path d="M452.36 516.2 V513.9" stroke="#1e1e1e" stroke-width="1"/>
<path d="M485.52 516.2 V513.9" stroke="#1e1e1e" stroke-width="1"/>
<path d="M518.69 516.2 V513.9" stroke="#1e1e1e" stroke-width="1"/>
<path d="M551.85 516.2 V513.9" stroke="#1e1e1e" stroke-width="1"/>
<path d="M585.01 516.2 V513.9" stroke="#1e1e1e" stroke-width="1"/>
<path d="M618.17 516.2 V513.9" stroke="#1e1e1e" stroke-width="1"/>
<path d="M651.34 516.2 V513.9" stroke="#1e1e1e" stroke-width="1"/>
<path d="M684.5 516.2 V513.9" stroke="#1e1e1e" stroke-width="1"/>
<text transform="translate(435.9,530.8) scale(0.97,1)" font-size="9.7" font-family='"Liberation Serif", serif' text-anchor="middle" font-weight="normal" fill="#111" >Blank</text>
<text transform="translate(469.9,530.8) scale(0.97,1)" font-size="9.7" font-family='"Liberation Serif", serif' text-anchor="middle" font-weight="normal" fill="#111" >H<tspan font-size="6.79" dy="2.2">2</tspan><tspan dy="-2.2">O</tspan><tspan font-size="6.79" dy="2.2">2</tspan><tspan dy="-2.2"></tspan></text>
<text transform="translate(501.9,530.8) scale(0.97,1)" font-size="9.7" font-family='"Liberation Serif", serif' text-anchor="middle" font-weight="normal" fill="#111" >NAC</text>
<text transform="translate(535.2,530.8) scale(0.97,1)" font-size="9.7" font-family='"Liberation Serif", serif' text-anchor="middle" font-weight="normal" fill="#111" >1</text>
<text transform="translate(568.5,530.8) scale(0.97,1)" font-size="9.7" font-family='"Liberation Serif", serif' text-anchor="middle" font-weight="normal" fill="#111" >5</text>
<text transform="translate(601.4,530.8) scale(0.97,1)" font-size="9.7" font-family='"Liberation Serif", serif' text-anchor="middle" font-weight="normal" fill="#111" >10</text>
<text transform="translate(634.9,530.8) scale(0.97,1)" font-size="9.7" font-family='"Liberation Serif", serif' text-anchor="middle" font-weight="normal" fill="#111" >30</text>
<text transform="translate(667.6,530.8) scale(0.97,1)" font-size="9.7" font-family='"Liberation Serif", serif' text-anchor="middle" font-weight="normal" fill="#111" >50</text>
<path d="M531 533.5 H667.5" stroke="#222" stroke-width="1.15"/>
<text transform="translate(548.6,547.8) scale(0.97,1)" font-size="9.7" font-family='"Liberation Serif", serif' text-anchor="start" font-weight="normal" fill="#111" >H<tspan font-size="6.8" dy="2.2">2</tspan><tspan dy="-2.2">O</tspan><tspan font-size="6.8" dy="2.2">2 </tspan><tspan dy="-2.2">(100 µM) + StrM (µg/mL)</tspan></text>
<text transform="translate(357.2,390.1) scale(1.07,1)" font-size="8.6" font-family='"Liberation Serif", serif' text-anchor="start" font-weight="bold" fill="#111" >(E)</text>
<text transform="translate(383.9,463) rotate(-90)" font-size="9.3" font-family='"Liberation Serif", serif' text-anchor="middle" fill="#111">GSH-PX activity (U/mg protein)</text>
<path d="M433.2 401.5 V389.3 H466.3 L466.3 458.8" stroke="#333" stroke-width="1.2" fill="none"/>
<path d="M469.4 437.7 V391.4 H668.4 L669.5 411.4" stroke="#333" stroke-width="1.2" fill="none"/>
<path d="M444.45 383.5 L444.45 381.6 M444.45 383.5 L446.26 382.91 M444.45 383.5 L445.57 385.04 M444.45 383.5 L443.33 385.04 M444.45 383.5 L442.64 382.91" stroke="#3a3a3a" stroke-width="0.85" stroke-linecap="round" fill="none"/>
<path d="M448.55 383.5 L448.55 381.6 M448.55 383.5 L450.36 382.91 M448.55 383.5 L449.67 385.04 M448.55 383.5 L447.43 385.04 M448.55 383.5 L446.74 382.91" stroke="#3a3a3a" stroke-width="0.85" stroke-linecap="round" fill="none"/>
<path d="M522.3 381.35 H527.9 M521.9 383.75 H527.5 M524.4 379.3 L523.2 385.7 M526.8 379.3 L525.6 385.7" stroke="#383838" stroke-width="0.8" fill="none"/>
<path d="M528.7 381.35 H534.3 M528.3 383.75 H533.9 M530.8 379.3 L529.6 385.7 M533.2 379.3 L532 385.7" stroke="#383838" stroke-width="0.8" fill="none"/>
<path d="M531.6 449.05 H537.2 M531.2 451.45 H536.8 M533.7 447 L532.5 453.4 M536.1 447 L534.9 453.4" stroke="#383838" stroke-width="0.8" fill="none"/>
</svg></body></html>
